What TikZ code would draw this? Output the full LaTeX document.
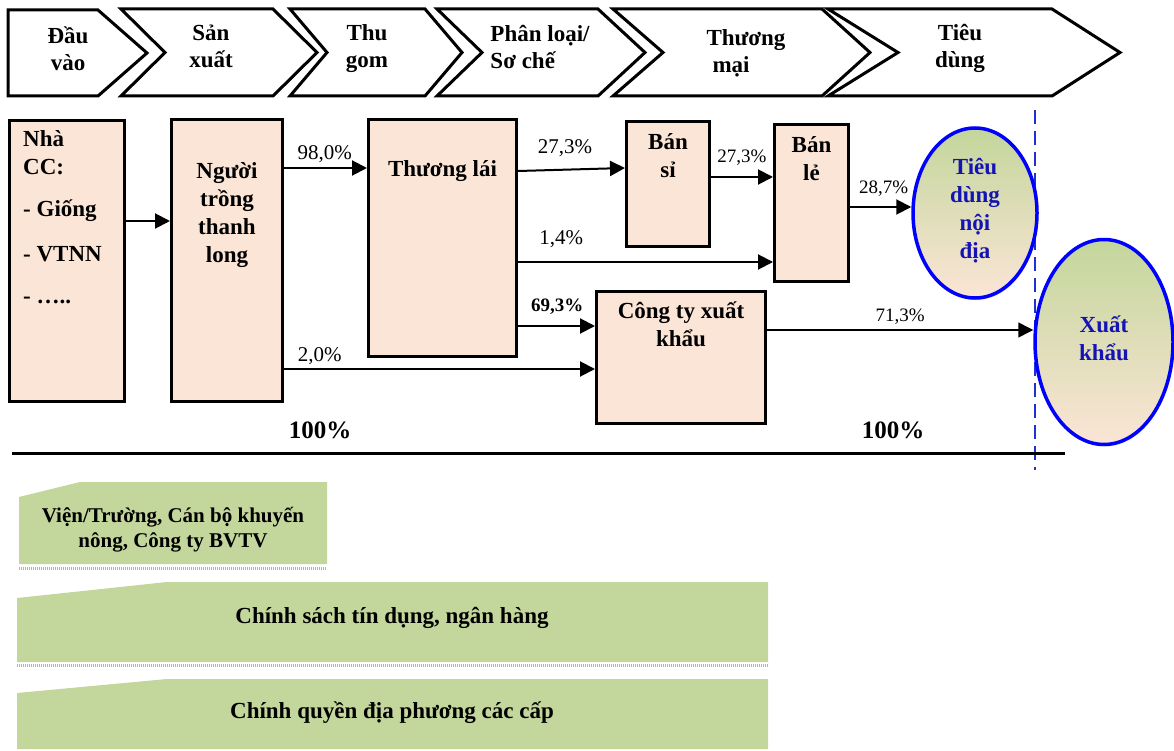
\documentclass[tikz,border=0pt]{standalone}
\usepackage{fontspec}
\setmainfont{Liberation Serif}
\usetikzlibrary{arrows.meta, positioning, shapes.geometric, shadows}
\definecolor{boxfill}{HTML}{FBE5D6}
\definecolor{leaf}{HTML}{C3D69B}
\definecolor{inkblue}{RGB}{20,20,180}
\definecolor{lineblue}{RGB}{30,50,210}
\tikzset{
    x=1pt, y=-1pt,% one unit is one pixel of the sketch
    arr/.style = {-{Triangle[length=15pt,width=15pt]}, line width=2pt}, % flow arrow
    chev/.style = {draw, line width=3pt, fill=white, line join=miter}, % stage chevron
    box/.style = {draw, line width=3pt, fill=boxfill, anchor=north west, inner sep=0pt},
    big/.style = {font=\fontsize{23}{28}\selectfont\bfseries, align=center, inner sep=0pt,
                  execute at begin node=\strut, execute at end node=\strut},
    stage/.style = {big, font=\fontsize{23}{27}\selectfont\bfseries},
    ell/.style = {ellipse, big, draw=blue, line width=3.5pt, text=inkblue,
                  top color=leaf, bottom color=boxfill,
                  drop shadow={shadow xshift=1pt, shadow yshift=-2pt, opacity=0.3}},
    pct/.style = {font=\fontsize{21}{25}\selectfont, inner sep=0pt}, % edge label
    pcts/.style = {font=\fontsize{19}{23}\selectfont, inner sep=0pt},
    pctb/.style = {font=\fontsize{19}{23}\selectfont\bfseries, inner sep=0pt},
    total/.style = {font=\fontsize{25}{30}\selectfont\bfseries, inner sep=0pt},
    band/.style = {fill=leaf}, % support bands
    bandline/.style = {gray!60, line width=3pt, dash pattern=on 1pt off 1pt}
}
\begin{document}
\begin{tikzpicture}
\useasboundingbox (0,0) rectangle (1174,751);

% stages
\draw[chev] (8,10) -- (98,10) -- (147,53) -- (98,96) -- (8,96) -- cycle;
\foreach \l/\n/\s/\p in {121/165/273/317, 290/327/425/462, 437/482/598/645,
                         613/663/822/870, 828/898/1052/1120}
  \draw[chev] (\l,9) -- (\s,9) -- (\p,52.5) -- (\s,96) -- (\l,96) -- (\n,52.5) -- cycle;
\node[stage] (c1) at (68,53) {Đầu\\vào};
\node[stage] (c2) at (211,50) {Sản\\xuất};
\node[stage] (c3) at (367,50) {Thu\\gom};
\node[stage, align=left] (c4) at (540,51) {Phân loại/\\Sơ chế};
\node[stage, align=left] (c5) at (746,55) {Thương\\\hspace*{6pt}mại};
\node[stage] (c6) at (960,50) {Tiêu\\dùng};

% actors
\node[box, minimum width=115pt, minimum height=281pt] (ncc) at (8,119) {};
\node[box, minimum width=111pt, minimum height=282pt] (ng) at (170,118) {};
\node[box, minimum width=148pt, minimum height=237pt] (tl) at (367,118) {};
\node[box, minimum width=83pt, minimum height=125pt] (bs) at (625,120) {};
\node[box, minimum width=74pt, minimum height=157pt] (bl) at (773,123) {};
\node[box, minimum width=169pt, minimum height=132pt] (ct) at (595,290) {};
\node[big, align=left, anchor=north west, below right=11pt and 15pt of ncc.north west] (nccT)
  {Nhà\\CC:\\[14pt]- Giống\\[17pt]- VTNN\\[14pt]- …..};
\node[big, below=44pt of ng.north] (ngT) {Người\\trồng\\thanh\\long};
\node[big, below=39pt of tl.north] (tlT) {Thương lái};
\node[big, below=13pt of bs.north] (bsT) {Bán\\sỉ};
\node[big, below=13pt of bl.north] (blT) {Bán\\lẻ};
\node[big, below=12pt of ct.north] (ctT) {Công ty xuất\\khẩu};

% markets
\draw[lineblue, line width=2.5pt, dash pattern=on 14pt off 7pt] (1035,110) -- (1035,470);
\node[ell, minimum width=124pt, minimum height=170pt] (td) at (975,213) {Tiêu\\dùng\\nội\\địa};
\node[ell, minimum width=138pt, minimum height=205pt] (xk) at (1104,342) {Xuất\\khẩu};

% flows
\draw[arr] (ncc.east |- 0,221) -- (ng.west |- 0,221);
\draw[arr] (ng.east |- 0,168) -- (tl.west |- 0,168) node[pct, pos=0.49, above=4pt] {98,0\%};
\draw[arr] (ng.east |- 0,369) -- (ct.west |- 0,369) node[pct, pos=0.115, above=3pt] {2,0\%};
\draw[arr] (tl.east |- 0,171) -- (bs.west |- 0,168) node[pct, pos=0.44, above=12pt] {27,3\%};
\draw[arr] (tl.east |- 0,262) -- (bl.west |- 0,262) node[pct, pos=0.17, above=13pt] {1,4\%};
\draw[arr] (tl.east |- 0,326) -- (ct.west |- 0,326) node[pctb, pos=0.51, above=11pt] {69,3\%};
\draw[arr] (bs.east |- 0,177) -- (bl.west |- 0,177) node[pcts, midway, above=11pt] {27,3\%};
\draw[arr] (bl.east |- 0,207) -- (td.west |- 0,207) node[pcts, pos=0.55, above=10pt] {28,7\%};
\draw[arr, line width=1.5pt] (ct.east |- 0,330) -- (xk.west |- 0,330) node[pcts, midway, above=5pt] {71,3\%};

\node[total] (h1) at (320,430) {100\%};
\node[total] (h2) at (893,430) {100\%};
\draw[line width=3pt] (12,453) -- (1065,453);

% support
\fill[band] (19,497) -- (80,482) -- (327,482) -- (327,564) -- (19,564) -- cycle;
\draw[bandline] (19,568) -- (327,568);
\fill[band] (17,598) -- (167,582) -- (768,582) -- (768,662) -- (17,662) -- cycle;
\draw[bandline] (17,665) -- (768,665);
\fill[band] (17,693) -- (167,679) -- (768,679) -- (768,749) -- (17,749) -- cycle;
\node[big, font=\fontsize{21}{25}\selectfont\bfseries] (b1) at (173,531) {Viện/Trường, Cán bộ khuyến\\nông, Công ty BVTV};
\node[big] (b2) at (392,618) {Chính sách tín dụng, ngân hàng};
\node[big] (b3) at (392,713) {Chính quyền địa phương các cấp};
\end{tikzpicture}
\end{document}
